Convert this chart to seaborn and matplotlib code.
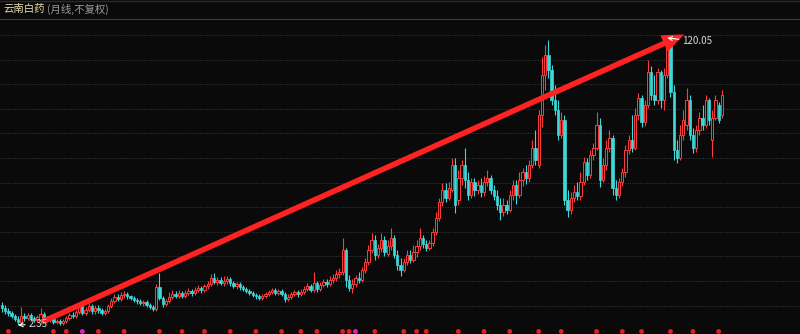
import numpy as np
import pandas as pd
import matplotlib
matplotlib.use("Agg")
import matplotlib.pyplot as plt
from matplotlib.lines import Line2D
import seaborn as sns

# ---------------- data (monthly candles, price units) ----------------
title_name = "云南白药"
title_note = "(月线,不复权)"

opens = [
    10.6, 9.3, 8.1, 7.3, 6.0, 4.8, 3.6, 6.0, 5.2, 6.5,
    5.2, 4.4, 4.4, 6.9, 5.2, 4.4, 4.8, 3.6, 4.0, 3.2,
    4.0, 5.2, 6.5, 6.0, 7.7, 10.6, 7.3, 8.5, 10.1, 8.1,
    9.3, 8.5, 7.3, 8.1, 10.1, 12.2, 13.9, 13.0, 14.7, 15.1,
    14.3, 13.5, 12.6, 12.2, 11.4, 11.8, 10.6, 9.7, 8.9, 17.9,
    13.5, 11.0, 12.2, 13.9, 15.1, 14.3, 15.5, 14.3, 15.5, 16.3,
    15.5, 16.7, 17.5, 16.7, 18.4, 19.2, 21.6, 20.0, 20.8, 19.6,
    20.4, 21.2, 19.6, 18.4, 19.2, 17.9, 17.1, 16.3, 15.5, 14.7,
    14.3, 13.5, 14.3, 15.1, 15.9, 16.7, 15.5, 16.3, 15.1, 13.0,
    13.9, 15.1, 15.9, 15.1, 15.9, 17.1, 18.4, 16.7, 19.6, 17.1,
    18.8, 20.0, 19.2, 20.8, 21.6, 23.3, 24.1, 33.1, 20.8, 17.5,
    19.2, 21.6, 20.8, 24.9, 28.2, 33.1, 37.2, 31.1, 33.9, 37.2,
    31.5, 34.7, 38.0, 31.1, 27.0, 24.9, 28.2, 31.1, 29.0, 32.3,
    34.7, 38.0, 35.6, 33.9, 35.9, 40.5, 46.2, 52.8, 57.7, 54.4,
    57.7, 68.0, 53.6, 62.6, 68.0, 61.8, 55.7, 61.0, 57.7, 59.8,
    56.9, 61.0, 62.6, 57.7, 55.2, 51.6, 48.7, 51.6, 49.5, 55.7,
    59.8, 55.7, 61.8, 65.1, 62.6, 67.9, 74.9, 67.9, 88.5, 104.9,
    113.1, 106.9, 94.6, 90.5, 80.3, 86.4, 53.6, 49.5, 54.4, 56.9,
    55.2, 61.0, 69.2, 63.9, 72.1, 74.9, 84.4, 61.8, 67.9, 74.9,
    79.0, 58.5, 55.7, 61.0, 65.1, 74.1, 78.2, 74.9, 88.5, 95.4,
    85.6, 92.6, 106.1, 96.7, 94.6, 106.1, 94.6, 104.9, 117.2, 97.9,
    74.1, 70.8, 80.3, 84.4, 94.6, 80.3, 74.9, 82.3, 87.2, 84.4,
    94.6, 78.2, 87.2, 92.6, 88.5,
]
closes = [
    9.3, 8.1, 7.3, 6.0, 4.8, 3.6, 6.0, 5.2, 6.5, 5.2,
    4.4, 5.6, 6.9, 5.2, 4.4, 4.8, 3.6, 4.0, 3.2, 4.0,
    5.2, 6.5, 6.0, 7.7, 9.7, 7.3, 8.5, 10.1, 8.1, 9.3,
    8.5, 7.3, 8.1, 10.1, 12.2, 13.9, 13.0, 14.7, 15.1, 14.3,
    13.5, 12.6, 12.2, 11.4, 11.8, 10.6, 9.7, 8.9, 17.9, 13.5,
    11.0, 12.2, 13.9, 15.1, 14.3, 15.5, 14.3, 15.5, 16.3, 15.5,
    16.7, 17.5, 16.7, 18.4, 19.2, 21.6, 20.0, 20.8, 19.6, 20.4,
    21.2, 19.6, 18.4, 19.2, 17.9, 17.1, 16.3, 15.5, 14.7, 14.3,
    13.5, 14.3, 15.1, 15.9, 16.7, 15.5, 16.3, 15.1, 13.0, 13.9,
    15.1, 15.9, 15.1, 15.9, 17.1, 18.4, 16.7, 19.6, 17.1, 18.8,
    20.0, 19.2, 20.8, 21.6, 23.3, 24.1, 33.1, 20.8, 17.5, 19.2,
    21.6, 20.8, 24.9, 28.2, 33.1, 37.2, 31.1, 33.9, 37.2, 32.3,
    34.7, 38.0, 31.1, 27.0, 24.9, 28.2, 31.1, 29.0, 32.3, 34.7,
    38.0, 35.6, 33.9, 35.9, 40.5, 46.2, 52.8, 57.7, 54.4, 58.5,
    68.0, 51.6, 62.6, 68.0, 61.8, 55.7, 61.0, 57.7, 59.8, 56.9,
    61.0, 62.6, 57.7, 55.2, 51.6, 48.7, 51.6, 49.5, 55.7, 59.8,
    55.7, 61.8, 65.1, 62.6, 67.9, 74.9, 70.0, 88.5, 104.9, 113.1,
    106.9, 94.6, 90.5, 80.3, 86.4, 53.6, 49.5, 54.4, 56.9, 55.2,
    61.0, 69.2, 63.9, 72.1, 74.9, 84.4, 61.8, 67.9, 74.9, 79.0,
    58.5, 55.7, 61.0, 65.1, 74.1, 78.2, 74.9, 88.5, 95.4, 85.6,
    92.6, 106.1, 96.7, 94.6, 106.1, 94.6, 104.9, 117.2, 97.9, 74.1,
    70.8, 80.3, 86.4, 94.6, 80.3, 74.9, 82.3, 87.2, 84.4, 94.6,
    86.4, 87.2, 94.6, 86.4, 96.7,
]
highs = [
    11.8, 10.6, 9.3, 8.1, 6.9, 6.0, 9.7, 7.3, 7.3, 7.3,
    6.0, 6.5, 9.3, 7.7, 6.0, 5.6, 5.2, 4.8, 4.8, 4.8,
    6.0, 7.3, 7.7, 8.5, 11.0, 11.8, 9.7, 11.4, 11.0, 10.6,
    10.6, 9.3, 8.9, 11.0, 13.5, 15.1, 15.1, 15.9, 16.3, 15.9,
    14.7, 14.3, 13.5, 13.0, 12.6, 12.6, 11.4, 10.6, 19.2, 23.7,
    14.3, 13.0, 15.9, 16.7, 16.3, 16.7, 16.3, 16.7, 17.5, 17.1,
    17.9, 18.8, 18.4, 19.2, 20.4, 23.3, 23.7, 22.1, 22.1, 22.5,
    22.5, 22.1, 20.4, 20.0, 20.0, 18.8, 17.9, 17.1, 16.3, 15.5,
    15.1, 15.1, 15.9, 16.7, 17.5, 17.5, 17.1, 17.1, 15.9, 15.1,
    15.9, 16.7, 16.7, 17.1, 18.4, 19.6, 19.2, 24.1, 20.4, 20.0,
    21.2, 21.2, 22.5, 23.3, 24.9, 25.7, 38.0, 33.9, 22.9, 21.2,
    22.9, 24.1, 26.1, 29.8, 35.2, 40.1, 39.3, 35.6, 40.1, 38.8,
    37.2, 42.1, 39.3, 33.1, 29.8, 29.8, 33.1, 33.1, 35.2, 37.2,
    42.1, 39.3, 37.2, 37.2, 42.1, 48.7, 54.4, 60.6, 60.6, 61.0,
    70.8, 70.8, 65.9, 70.0, 74.9, 65.1, 62.6, 62.6, 61.8, 62.6,
    63.5, 65.9, 63.9, 59.8, 57.7, 54.4, 54.4, 53.6, 57.7, 61.8,
    61.8, 65.1, 66.7, 67.9, 70.0, 78.2, 82.3, 90.5, 112.2, 117.0,
    119.4, 109.0, 100.8, 94.6, 89.7, 88.5, 57.7, 56.9, 59.8, 61.0,
    65.1, 71.2, 70.8, 74.1, 77.0, 89.7, 87.2, 70.8, 78.2, 82.3,
    80.3, 61.8, 62.6, 66.7, 76.2, 80.3, 88.5, 91.3, 97.5, 96.7,
    94.6, 111.0, 108.5, 104.9, 107.7, 106.9, 107.7, 120.05, 118.4, 100.8,
    78.2, 84.4, 90.5, 99.5, 96.7, 83.1, 84.4, 89.7, 92.6, 96.7,
    95.4, 90.5, 96.7, 93.8, 98.7,
]
lows = [
    7.7, 6.9, 6.0, 5.2, 4.0, 2.35, 3.2, 4.0, 4.4, 4.0,
    3.6, 3.6, 2.8, 4.4, 3.6, 3.6, 2.8, 2.8, 2.4, 2.4,
    3.2, 4.4, 5.2, 5.2, 6.9, 6.5, 6.5, 7.7, 6.9, 6.9,
    7.3, 6.5, 6.5, 7.3, 9.3, 11.4, 12.2, 12.2, 13.5, 13.0,
    12.6, 11.8, 11.0, 10.6, 10.1, 9.7, 8.9, 8.1, 8.1, 12.6,
    9.7, 10.1, 11.4, 13.0, 13.5, 13.5, 13.5, 13.5, 14.7, 14.3,
    14.7, 15.9, 15.5, 15.9, 17.1, 18.4, 19.2, 18.8, 18.8, 18.4,
    19.2, 18.4, 17.5, 17.1, 16.7, 16.3, 15.5, 14.7, 13.9, 13.0,
    12.6, 12.6, 13.5, 14.3, 15.1, 14.7, 14.7, 14.3, 11.8, 12.2,
    13.0, 14.3, 13.9, 14.3, 15.1, 16.3, 15.9, 15.9, 15.9, 16.3,
    17.9, 17.9, 18.4, 19.6, 20.4, 21.6, 22.9, 17.9, 16.3, 15.5,
    17.9, 19.6, 20.0, 23.7, 27.0, 31.9, 29.0, 29.8, 32.3, 30.6,
    30.6, 33.1, 29.8, 24.9, 22.5, 24.1, 27.0, 27.8, 28.2, 30.2,
    33.1, 33.9, 32.7, 33.1, 34.7, 39.3, 45.0, 51.1, 52.8, 53.6,
    56.9, 48.3, 51.6, 59.8, 58.5, 53.6, 54.4, 55.2, 56.1, 54.8,
    55.2, 59.3, 56.1, 53.6, 49.5, 45.4, 47.1, 47.9, 48.7, 53.6,
    52.0, 54.4, 59.3, 60.2, 61.0, 66.7, 67.9, 66.7, 83.5, 98.7,
    103.6, 92.6, 88.5, 78.2, 79.0, 51.6, 46.6, 47.9, 52.8, 53.6,
    53.6, 59.8, 61.8, 62.6, 70.0, 74.1, 58.9, 61.0, 65.9, 73.3,
    55.7, 53.6, 54.4, 59.3, 63.1, 72.5, 73.3, 74.1, 86.4, 83.5,
    83.9, 91.3, 94.6, 92.6, 93.0, 91.3, 90.5, 103.6, 95.8, 70.0,
    68.8, 70.0, 78.2, 82.3, 78.2, 72.9, 73.3, 80.3, 82.3, 83.1,
    84.4, 71.2, 86.4, 85.2, 87.2,
]
# bottom event markers (candle index, kind)
marker_idx = [2, 16, 20, 25, 30, 38, 49, 56, 63, 71, 79, 87, 93,
              98, 106, 108, 110, 116, 125, 129, 132, 142, 150, 158,
              167, 174, 185, 193, 199, 208, 215, 223]
marker_kind = ["d"] * len(marker_idx)
marker_kind[3] = "s"
marker_kind[16] = "s"

df = pd.DataFrame({"o": opens, "h": highs, "l": lows, "c": closes})
df["i"] = np.arange(len(df))

# ---------------- style ----------------
BG = "#0a0a0a"
UP = "#ff3c3c"
DN = "#3fd8d8"
sns.set_theme(style="dark")
plt.rcParams["font.family"] = ["Noto Sans CJK SC", "DejaVu Sans"]

fig = plt.figure(figsize=(8, 3.34), dpi=100, facecolor=BG)
ax = fig.add_axes([0, 0, 1, 1])
ax.set_facecolor(BG)
for s in ax.spines.values():
    s.set_visible(False)

ax.set_xlim(-0.62, 248.3)
ax.set_ylim(-1.34, 135.6)

grid_levels = np.linspace(121.25, 10.3, 12)
for g in grid_levels:
    ax.axhline(g, color="#3a3a3a", lw=0.7, ls=(0, (1, 1.5)), zorder=0)
ax.set_xticks([])
ax.set_yticks([])

# candles
up = df["c"] >= df["o"]
wick_colors = np.where(up, UP, DN)
ax.vlines(df["i"], df["l"], df["h"], colors=wick_colors, lw=0.8, zorder=2)
body_bottom = np.minimum(df["o"], df["c"])
body_h = np.maximum(np.abs(df["c"] - df["o"]), 0.2)
ax.bar(df["i"][up], body_h[up], bottom=body_bottom[up], width=0.72,
       facecolor=BG, edgecolor=UP, linewidth=0.7, zorder=3)
ax.bar(df["i"][~up], body_h[~up], bottom=body_bottom[~up], width=0.72,
       facecolor=DN, edgecolor=DN, linewidth=0.5, zorder=3)

# bottom markers
mk = pd.DataFrame({"x": marker_idx, "y": [-0.3] * len(marker_idx), "k": marker_kind})
sns.scatterplot(data=mk, x="x", y="y", hue="k", palette={"d": "#e02020", "s": "#e020c0"},
                s=12, linewidth=0, legend=False, ax=ax, zorder=4)
ax.set_xlabel("")
ax.set_ylabel("")

# trend arrow (filled, sharp head)
ax.annotate("", xy=(212.3, 121.5), xytext=(12.4, 3.6),
            arrowprops=dict(arrowstyle="simple,head_length=1.6,head_width=1.3,tail_width=0.4",
                            facecolor="#ff2222", edgecolor="none", lw=0,
                            mutation_scale=10, shrinkA=0, shrinkB=0), zorder=6)

# low / high labels
lo_i = int(np.argmin(lows))
hi_i = int(np.argmax(highs))
ax.annotate(f"{min(lows):.2f}", xy=(lo_i, min(lows)), xytext=(8.2, 2.6),
            color="#d8d8d8", fontsize=7, va="center", ha="left",
            arrowprops=dict(arrowstyle="->", color="white", lw=0.8,
                            shrinkA=0, shrinkB=0), zorder=7)
ax.annotate(f"{max(highs):.2f}", xy=(hi_i, max(highs)), xytext=(211.6, 118.6),
            color="#d8d8d8", fontsize=7, va="center", ha="left",
            arrowprops=dict(arrowstyle="->", color="white", lw=0.8,
                            shrinkA=0, shrinkB=0), zorder=7)

# header
fig.add_artist(Line2D([0, 1], [1 - 18.5 / 334] * 2, color="#3c3c3c", lw=0.8))
fig.add_artist(Line2D([0, 1], [1 - 0.5 / 334] * 2, color="#2a2a2a", lw=1))
fig.text(3 / 800, 1 - 9 / 334, title_name, color="#e8dfb0", fontsize=7.5,
         va="center", ha="left")
fig.text(47 / 800, 1 - 9 / 334, title_note, color="#9a9a9a", fontsize=7.5,
         va="center", ha="left")

fig.savefig("out.png", dpi=100, facecolor=BG)
